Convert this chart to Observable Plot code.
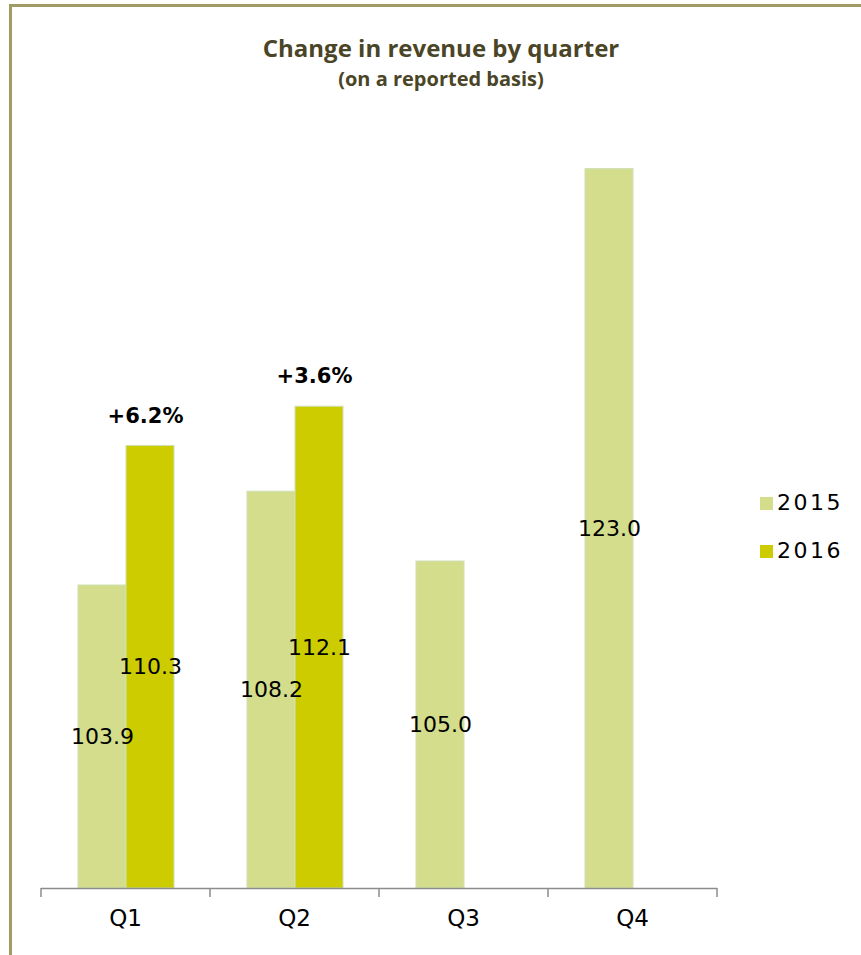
<!DOCTYPE html>
<html>
<head>
<meta charset="utf-8">
<script src="https://cdn.jsdelivr.net/npm/d3@7"></script>
<script src="https://cdn.jsdelivr.net/npm/@observablehq/plot@0.6"></script>
<style>
  html, body { margin: 0; padding: 0; background: #fff; }
  #wrap { position: relative; width: 861px; height: 955px; overflow: hidden; background: #fff; }
  #frame { position: absolute; left: 9px; top: 4px; width: 900px; height: 1000px;
           border-top: 3px solid #a19b68; border-left: 3px solid #a19b68; }
  #title { position: absolute; left: 0; width: 882px; top: 31px; text-align: center;
           font-family: "Open Sans", sans-serif; font-weight: bold;
           font-size: 24px; color: #4a4526; }
  #subtitle { position: absolute; left: 0; width: 882px; top: 65px; text-align: center;
           font-family: "Open Sans", sans-serif; font-weight: bold;
           font-size: 20px; color: #4a4526; }
  #chart { position: absolute; left: 0; top: 0; }
  .leg { position: absolute; left: 760px; font-family: "DejaVu Sans", sans-serif; font-size: 22px;
         letter-spacing: 2.5px; color: #000; line-height: 26px; }
  .leg span.sw { display: inline-block; width: 13px; height: 13px; margin-right: 4px; vertical-align: 0px; }
</style>
</head>
<body>
<div id="wrap">
  <div id="frame"></div>
  <div id="title">Change in revenue by quarter</div>
  <div id="subtitle">(on a reported basis)</div>
  <div id="chart"></div>
  <div id="legend"></div>
</div>
<script>
const quarters = ["Q1", "Q2", "Q3", "Q4"];
const years = ["2015", "2016"];
const values2015 = [103.9, 108.2, 105.0, 123.0];
const values2016 = [110.3, 112.1, null, null];
const growthLabels = ["+6.2%", "+3.6%", null, null];
const yBase = 90;
const yTop = 125;
const colors = ["#d4dd8c", "#cccc00"];

const data = [];
quarters.forEach((q, i) => {
  if (values2015[i] != null) data.push({quarter: q, year: "2015", value: values2015[i]});
  if (values2016[i] != null) data.push({quarter: q, year: "2016", value: values2016[i], growth: growthLabels[i]});
});
const growthData = data.filter(d => d.growth);

const font = "DejaVu Sans, sans-serif";

const chart = Plot.plot({
  width: 861,
  height: 955,
  marginTop: 125,
  marginBottom: 67,
  marginLeft: 40,
  marginRight: 143,
  style: {fontFamily: font, background: "transparent", overflow: "visible"},
  fx: {domain: quarters, padding: 0, label: null, axis: null},
  x: {domain: years, paddingInner: 0, paddingOuter: 0.75, axis: null},
  y: {domain: [yBase, yTop], axis: null},
  color: {domain: years, range: colors},
  marks: [
    Plot.barY(data, {fx: "quarter", x: "year", y1: yBase, y2: "value", fill: "year", stroke: "#cfe0b6", strokeWidth: 1, inset: 0}),
    Plot.text(data, {fx: "quarter", x: "year", y: d => (yBase + d.value) / 2, text: d => d.value.toFixed(1), fontSize: 22, fill: "#000"}),
    Plot.text(growthData, {fx: "quarter", x: "year", y: "value", text: "growth", dy: -30, dx: -5, fontSize: 21, fontWeight: "bold", fill: "#000"}),
    Plot.ruleY([yBase], {stroke: "#8c8c8c", strokeWidth: 1.5})
  ]
});
document.getElementById("chart").appendChild(chart);

// category axis ticks and labels using Plot's fx scale
const fx = chart.scale("fx");
const yS = chart.scale("y");
const svg = d3.select(chart);
const y0 = yS.apply(yBase);
const edges = quarters.map(q => fx.apply(q)).concat([fx.apply(quarters[quarters.length - 1]) + fx.bandwidth]);
svg.append("g").selectAll("line").data(edges).join("line")
  .attr("x1", d => d).attr("x2", d => d)
  .attr("y1", y0).attr("y2", y0 + 9)
  .attr("stroke", "#8c8c8c").attr("stroke-width", 1.5);
svg.append("g").selectAll("text").data(quarters).join("text")
  .attr("x", q => fx.apply(q) + fx.bandwidth / 2)
  .attr("y", y0 + 38)
  .attr("text-anchor", "middle")
  .attr("font-family", font)
  .attr("font-size", 23)
  .attr("fill", "#000")
  .text(q => q);

// legend
const leg = document.getElementById("legend");
years.forEach((yr, i) => {
  const div = document.createElement("div");
  div.className = "leg";
  div.style.top = (490 + i * 48) + "px";
  div.innerHTML = `<span class="sw" style="background:${colors[i]}"></span>${yr}`;
  leg.appendChild(div);
});
</script>
</body>
</html>
